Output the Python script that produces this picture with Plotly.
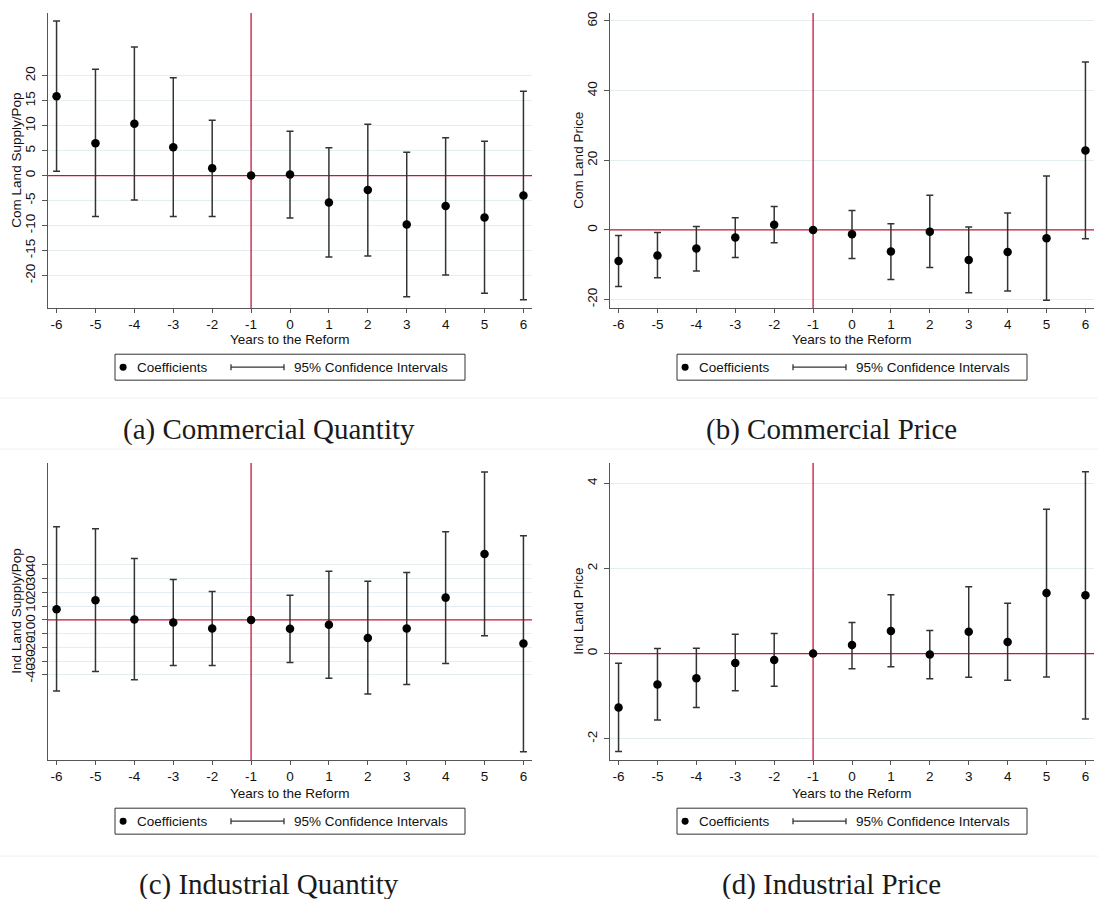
import numpy as np
import plotly.graph_objects as go

# Event-study estimates: years relative to the reform (-1 is the omitted base year)
years = [-6, -5, -4, -3, -2, -1, 0, 1, 2, 3, 4, 5, 6]

com_qty_coef = [15.9, 6.5, 10.4, 5.7, 1.5, 0, 0.2, -5.4, -2.9, -9.8, -6.1, -8.4, -4.0]
com_qty_lo = [0.9, -8.2, -4.9, -8.2, -8.2, 0, -8.5, -16.3, -16.1, -24.3, -19.9, -23.6, -24.9]
com_qty_hi = [31.0, 21.3, 25.8, 19.6, 11.1, 0, 8.9, 5.6, 10.3, 4.7, 7.6, 6.9, 16.9]

com_price_coef = [-8.9, -7.35, -5.35, -2.2, 1.5, 0, -1.24, -6.2, -0.48, -8.6, -6.3, -2.4, 22.8]
com_price_lo = [-16.2, -13.75, -11.75, -7.9, -3.7, 0, -8.2, -14.2, -10.8, -18.0, -17.5, -20.15, -2.5]
com_price_hi = [-1.6, -0.76, 0.96, 3.5, 6.7, 0, 5.6, 1.8, 10.0, 0.86, 4.9, 15.5, 48.2]

ind_qty_coef = [7.75, 14.3, 0.24, -1.9, -6.3, 0, -6.5, -3.6, -13.1, -6.3, 16.2, 47.9, -17.2]
ind_qty_lo = [-51.8, -37.5, -43.6, -33.2, -33.2, 0, -31.0, -42.4, -54.0, -47.0, -31.7, -11.6, -95.9]
ind_qty_hi = [67.8, 66.3, 44.6, 29.3, 20.6, 0, 17.9, 35.4, 28.1, 34.4, 64.2, 107.7, 61.3]

ind_price_coef = [-1.27, -0.73, -0.58, -0.22, -0.15, 0, 0.2, 0.53, -0.02, 0.51, 0.27, 1.42, 1.37]
ind_price_lo = [-2.30, -1.56, -1.27, -0.875, -0.77, 0, -0.36, -0.31, -0.59, -0.56, -0.63, -0.55, -1.54]
ind_price_hi = [-0.23, 0.12, 0.125, 0.45, 0.47, 0, 0.73, 1.38, 0.54, 1.57, 1.18, 3.39, 4.27]

com_qty_ticks = [-20, -15, -10, -5, 0, 5, 10, 15, 20]
com_price_ticks = [-20, 0, 20, 40, 60]
ind_qty_ticks = [-40, -30, -20, -10, 0, 10, 20, 30, 40]
ind_price_ticks = [-2, 0, 2, 4]

y_titles = ["Com Land Supply/Pop", "Com Land Price", "Ind Land Supply/Pop", "Ind Land Price"]
captions = ["(a) Commercial Quantity", "(b) Commercial Price",
            "(c) Industrial Quantity", "(d) Industrial Price"]
x_title = "Years to the Reform"
legend_labels = ["Coefficients", "95% Confidence Intervals"]

W, H = 1098, 899
SANS = "Liberation Sans, Arial, Helvetica, sans-serif"
SERIF = "Liberation Serif, Times New Roman, serif"
FS = 13.5
RED = "#c8143c"
GRID = "#e4edf0"
AXIS = "#555555"
BAR = "#333333"
XRANGE = [-6.22, 6.22]
BASE_YEAR = -1


def px_x(v):
    return v / W


def px_y(v):
    return 1 - v / H


def hyphen_labels(vals):
    # plain ASCII hyphen for negative numbers
    return [str(v) for v in vals]


panels = [
    dict(coef=com_qty_coef, lo=com_qty_lo, hi=com_qty_hi, ticks=com_qty_ticks,
         yrange=[-26.6, 32.6], col=0, row=0),
    dict(coef=com_price_coef, lo=com_price_lo, hi=com_price_hi, ticks=com_price_ticks,
         yrange=[-22.5, 62.3], col=1, row=0),
    dict(coef=ind_qty_coef, lo=ind_qty_lo, hi=ind_qty_hi, ticks=ind_qty_ticks,
         yrange=[-102.2, 114.2], col=0, row=1),
    dict(coef=ind_price_coef, lo=ind_price_lo, hi=ind_price_hi, ticks=ind_price_ticks,
         yrange=[-2.508, 4.476], col=1, row=1),
]

# pixel geometry of the 2x2 grid of plot areas
col_left = [48, 610]
plot_w = 484
row_top = [11, 462]
plot_h = [296, 298]
row_shift = [0, 455]
cap_y = [428, 884]

fig = go.Figure()
shapes = []
annotations = []
layout_axes = {}

for i, p in enumerate(panels):
    n = "" if i == 0 else str(i + 1)
    xa, ya = "x" + n, "y" + n
    coef = np.array(p["coef"])
    lo = np.array(p["lo"])
    hi = np.array(p["hi"])

    # reference lines: zero effect and base year (drawn under the estimates)
    fig.add_trace(go.Scatter(
        x=XRANGE, y=[0, 0], mode="lines", xaxis=xa, yaxis=ya, showlegend=False,
        line=dict(color=RED, width=1.3), hoverinfo="skip"))
    fig.add_trace(go.Scatter(
        x=[BASE_YEAR, BASE_YEAR], y=p["yrange"], mode="lines", xaxis=xa, yaxis=ya,
        showlegend=False, line=dict(color=RED, width=1.3), hoverinfo="skip"))

    fig.add_trace(go.Scatter(
        x=years, y=coef, mode="markers", xaxis=xa, yaxis=ya, showlegend=False,
        marker=dict(color="black", size=8.5, symbol="circle"),
        error_y=dict(type="data", symmetric=False, array=hi - coef,
                     arrayminus=coef - lo, color=BAR, thickness=1.5, width=3.5),
        hoverinfo="x+y",
    ))

    left = col_left[p["col"]]
    top = row_top[p["row"]]
    ph = plot_h[p["row"]]
    dy = row_shift[p["row"]]
    dx = left - col_left[0]

    layout_axes["xaxis" + n] = dict(
        domain=[px_x(left), px_x(left + plot_w)], range=XRANGE, anchor=ya,
        tickvals=years, ticktext=hyphen_labels(years), ticks="outside", ticklen=4,
        tickcolor=AXIS, tickwidth=1,
        showline=True, linecolor=AXIS, linewidth=1, showgrid=False, zeroline=False,
        tickfont=dict(family=SANS, size=FS, color="#111"), ticklabelstandoff=-1,
    )
    layout_axes["yaxis" + n] = dict(
        domain=[px_y(top + ph), px_y(top)], range=p["yrange"], anchor=xa,
        tickvals=p["ticks"], ticktext=hyphen_labels(p["ticks"]), tickangle=-90,
        ticks="outside", ticklen=5,
        tickcolor=AXIS, tickwidth=1, showline=True, linecolor=AXIS, linewidth=1,
        showgrid=True, gridcolor=GRID, gridwidth=1, zeroline=False,
        tickfont=dict(family=SANS, size=FS, color="#111"), ticklabelstandoff=2,
    )

    # axis titles
    annotations.append(dict(text=y_titles[i], xref="paper", yref="paper",
                            x=px_x(17 + dx), y=px_y(top + ph / 2), textangle=-90,
                            showarrow=False, xanchor="center", yanchor="middle",
                            font=dict(family=SANS, size=FS, color="#111")))
    annotations.append(dict(text=x_title, xref=xa, yref="paper", x=0,
                            y=px_y(338 + dy), showarrow=False, xanchor="center",
                            yanchor="middle", font=dict(family=SANS, size=FS, color="#111")))

    # legend box
    bx0 = 115 + dx
    by0, by1 = 353 + dy, 379 + dy
    cy = (by0 + by1) / 2
    shapes.append(dict(type="rect", xref="paper", yref="paper",
                       x0=px_x(bx0), x1=px_x(bx0 + 350), y0=px_y(by1), y1=px_y(by0),
                       line=dict(color="#333", width=1), fillcolor="rgba(0,0,0,0)"))
    shapes.append(dict(type="circle", xref="paper", yref="paper",
                       x0=px_x(bx0 + 4.6), x1=px_x(bx0 + 11.6),
                       y0=px_y(cy + 3.5), y1=px_y(cy - 3.5),
                       line=dict(color="black", width=0), fillcolor="black"))
    annotations.append(dict(text=legend_labels[0], xref="paper", yref="paper",
                            x=px_x(bx0 + 20), y=px_y(cy), showarrow=False,
                            xanchor="left", yanchor="middle",
                            font=dict(family=SANS, size=FS, color="#111")))
    sx0, sx1 = bx0 + 116, bx0 + 169
    shapes.append(dict(type="line", xref="paper", yref="paper",
                       x0=px_x(sx0), x1=px_x(sx1), y0=px_y(cy), y1=px_y(cy),
                       line=dict(color=BAR, width=1.3)))
    for sx in (sx0, sx1):
        shapes.append(dict(type="line", xref="paper", yref="paper",
                           x0=px_x(sx), x1=px_x(sx), y0=px_y(cy - 3), y1=px_y(cy + 3),
                           line=dict(color=BAR, width=1.3)))
    annotations.append(dict(text=legend_labels[1], xref="paper", yref="paper",
                            x=px_x(bx0 + 177), y=px_y(cy), showarrow=False,
                            xanchor="left", yanchor="middle",
                            font=dict(family=SANS, size=FS, color="#111")))

    # sub-figure caption
    annotations.append(dict(text=captions[i], xref="paper", yref="paper",
                            x=px_x(269 + dx), y=px_y(cap_y[p["row"]]), showarrow=False,
                            xanchor="center", yanchor="middle",
                            font=dict(family=SERIF, size=29, color="#1a1a1a")))

# faint rules framing the captions
for ry in (397, 448, 856):
    shapes.append(dict(type="line", xref="paper", yref="paper", x0=0, x1=1,
                       y0=px_y(ry), y1=px_y(ry), line=dict(color="#f0f0f0", width=1)))

fig.update_layout(
    width=W, height=H, margin=dict(l=0, r=0, t=0, b=0),
    paper_bgcolor="white", plot_bgcolor="white",
    showlegend=False, shapes=shapes, annotations=annotations,
    **layout_axes,
)

fig.write_html("out.html")
